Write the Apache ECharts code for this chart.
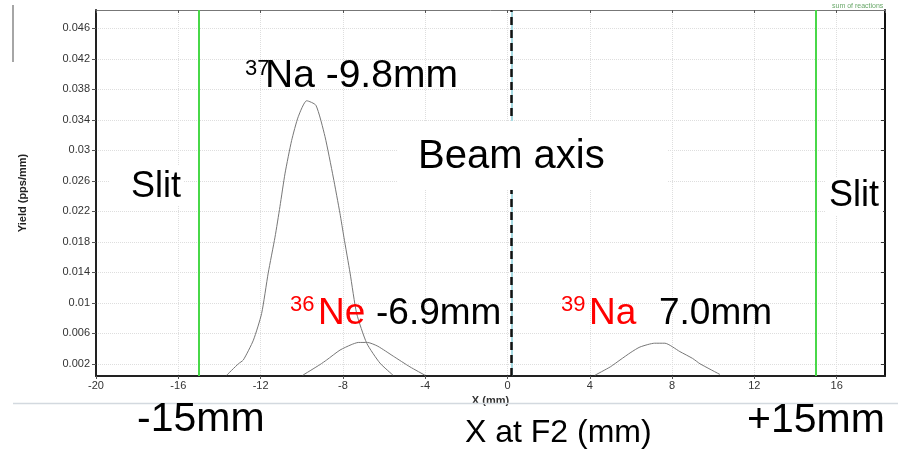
<!DOCTYPE html>
<html>
<head>
<meta charset="utf-8">
<title>Yield vs X at F2</title>
<script src="https://cdn.jsdelivr.net/npm/echarts@6.0.0/dist/echarts.min.js"></script>
<style>
  html, body { margin: 0; padding: 0; background: #fff; }
  #main { width: 898px; height: 451px; }
</style>
</head>
<body>
<div id="main"></div>
<script>
// tick values
const yTicks = [0.002, 0.006, 0.01, 0.014, 0.018, 0.022, 0.026, 0.03, 0.034, 0.038, 0.042, 0.046];

// 37Na distribution (X mm, yield pps/mm)
const na37X = [-13.65, -13.08, -12.84, -12.35, -11.95, -11.63, -11.30, -11.06, -10.81, -10.49, -10.17, -9.76, -9.31, -8.87, -8.47, -8.14, -7.95, -7.65, -7.33, -6.84, -6.20, -5.56];
const na37Y = [0.0005, 0.0020, 0.0025, 0.0051, 0.0086, 0.0139, 0.0186, 0.0226, 0.0270, 0.0313, 0.0344, 0.0365, 0.0359, 0.0318, 0.0265, 0.0217, 0.0186, 0.0139, 0.0086, 0.0047, 0.0021, 0.0005];

// 36Ne distribution
const ne36X = [-9.95, -9.11, -8.79, -8.14, -7.6, -7.25, -6.8, -6.3, -5.55, -4.74, -4.01];
const ne36Y = [0.0005, 0.0019, 0.0025, 0.0038, 0.0045, 0.0048, 0.0048, 0.0043, 0.0030, 0.0016, 0.0005];

// 39Na distribution
const na39X = [4.25, 5.0, 5.47, 6.0, 6.44, 7.15, 7.65, 8.38, 9.0, 9.36, 10.33];
const na39Y = [0.0005, 0.0016, 0.0025, 0.0035, 0.0042, 0.0047, 0.0047, 0.0036, 0.0027, 0.0020, 0.0006];

// slit positions and beam axis
const slitX = [-15, 15];
const beamX = 0.2;

const FONT = "'Liberation Sans', Arial, sans-serif";

function zip(xs, ys) {
  return xs.map((x, i) => [x, ys[i]]);
}

function txt(x, y, text, size, color) {
  return {
    type: 'text', z: 110,
    style: {
      x: x, y: y, text: text, font: size + 'px ' + FONT, fill: color || '#000',
      textAlign: 'left', align: 'left', textVerticalAlign: 'middle', verticalAlign: 'middle'
    }
  };
}

function box(x, y, w, h) {
  return { type: 'rect', z: 105, shape: { x: x, y: y, width: w, height: h }, style: { fill: '#fff' } };
}

let myChart = echarts.init(document.getElementById('main'));

const curveStyle = { color: '#777', width: 1 };

const option = {
  animation: false,
  backgroundColor: '#fff',
  grid: { left: 96, right: 13, top: 10, bottom: 75 },
  xAxis: [
    {
      type: 'value', min: -20, max: 18.35, interval: 4,
      name: 'X (mm)', nameLocation: 'middle', nameGap: 14,
      nameTextStyle: { fontFamily: FONT, fontSize: 11, fontWeight: 'bold', color: '#333' },
      axisLine: { show: true, onZero: false, lineStyle: { color: '#222', width: 2 } },
      axisTick: { show: true, length: 3, lineStyle: { color: '#555' } },
      axisLabel: { color: '#333', fontFamily: FONT, fontSize: 11, margin: 4, showMaxLabel: false },
      splitLine: { show: true, lineStyle: { color: '#dedede', type: 'dotted' } }
    },
    {
      type: 'value', position: 'top', min: -20, max: 18.35, interval: 4,
      axisLine: { show: true, onZero: false, lineStyle: { color: '#777', width: 1 } },
      axisTick: { show: true, inside: true, length: 3, lineStyle: { color: '#555' } },
      axisLabel: { show: false },
      splitLine: { show: false }
    }
  ],
  yAxis: [
    {
      type: 'value', min: 0.0004, max: 0.0484,
      name: 'Yield (pps/mm)', nameLocation: 'middle', nameGap: 68, nameRotate: 90,
      nameTextStyle: { fontFamily: FONT, fontSize: 11, fontWeight: 'bold', color: '#222' },
      axisLine: { show: true, onZero: false, lineStyle: { color: '#222', width: 2 } },
      axisTick: { show: true, length: 4, customValues: yTicks, lineStyle: { color: '#555' } },
      axisLabel: {
        color: '#333', fontFamily: FONT, fontSize: 11, margin: 6, customValues: yTicks,
        formatter: v => String(+v.toFixed(3))
      },
      splitLine: { show: true, lineStyle: { color: '#dedede', type: 'dotted' } }
    },
    {
      type: 'value', position: 'right', min: 0.0004, max: 0.0484,
      axisLine: { show: true, onZero: false, lineStyle: { color: '#111', width: 2 } },
      axisTick: { show: true, inside: true, length: 4, customValues: yTicks, lineStyle: { color: '#333' } },
      axisLabel: { show: false },
      splitLine: { show: false }
    }
  ],
  series: [
    {
      name: 'slits', type: 'line', data: [], silent: true,
      markLine: {
        symbol: 'none', silent: true, label: { show: false },
        lineStyle: { color: '#48d848', width: 2, type: 'solid' },
        data: slitX.map(v => ({ xAxis: v }))
      }
    },
    {
      name: 'beam', type: 'line', data: [], silent: true,
      markLine: {
        symbol: 'none', silent: true, label: { show: false },
        lineStyle: { color: '#a8dbe3', width: 2, type: 'solid' },
        data: [{ xAxis: beamX }]
      }
    },
    {
      name: 'beam dash', type: 'line', data: [], silent: true, z: 3,
      markLine: {
        symbol: 'none', silent: true, label: { show: false },
        lineStyle: { color: '#111', width: 2.5, type: [8, 5] },
        data: [{ xAxis: beamX }]
      }
    },
    { name: '37Na', type: 'line', data: zip(na37X, na37Y), showSymbol: false, smooth: 0.2, lineStyle: curveStyle, itemStyle: { color: '#777' } },
    { name: '36Ne', type: 'line', data: zip(ne36X, ne36Y), showSymbol: false, smooth: 0.2, lineStyle: curveStyle, itemStyle: { color: '#777' } },
    { name: '39Na', type: 'line', data: zip(na39X, na39Y), showSymbol: false, smooth: 0.2, lineStyle: curveStyle, itemStyle: { color: '#777' } }
  ],
  graphic: [
    // slide leftovers
    { type: 'line', z: 100, shape: { x1: 13, y1: 5, x2: 13, y2: 62 }, style: { stroke: '#888', lineWidth: 1.5 } },
    { type: 'line', z: 100, shape: { x1: 13, y1: 403.5, x2: 898, y2: 403.5 }, style: { stroke: '#d3d9df', lineWidth: 1.5 } },
    txt(832, 6, 'sum of reactions', 7, '#6aa86a'),

    txt(245, 69, '37', 22),
    txt(265, 76, 'Na -9.8mm', 39),

    box(397, 121, 271, 69),
    txt(418, 157, 'Beam axis', 40),

    box(110, 166, 73, 40),
    txt(131, 187, 'Slit', 36),
    box(825, 178, 58, 38),
    txt(829, 196, 'Slit', 36),

    txt(290, 305, '36', 22, '#ff0000'),
    txt(318, 314, 'Ne', 37, '#ff0000'),
    txt(376, 314, '-6.9mm', 37),

    txt(561, 305, '39', 22, '#ff0000'),
    txt(589, 314, 'Na', 37, '#ff0000'),
    txt(659, 314, '7.0mm', 37),

    txt(137, 420, '-15mm', 41),
    txt(747, 421, '+15mm', 41),
    txt(465, 433, 'X at F2 (mm)', 32)
  ]
};

myChart.setOption(option);
window.addEventListener('resize', () => myChart.resize());
</script>
</body>
</html>
